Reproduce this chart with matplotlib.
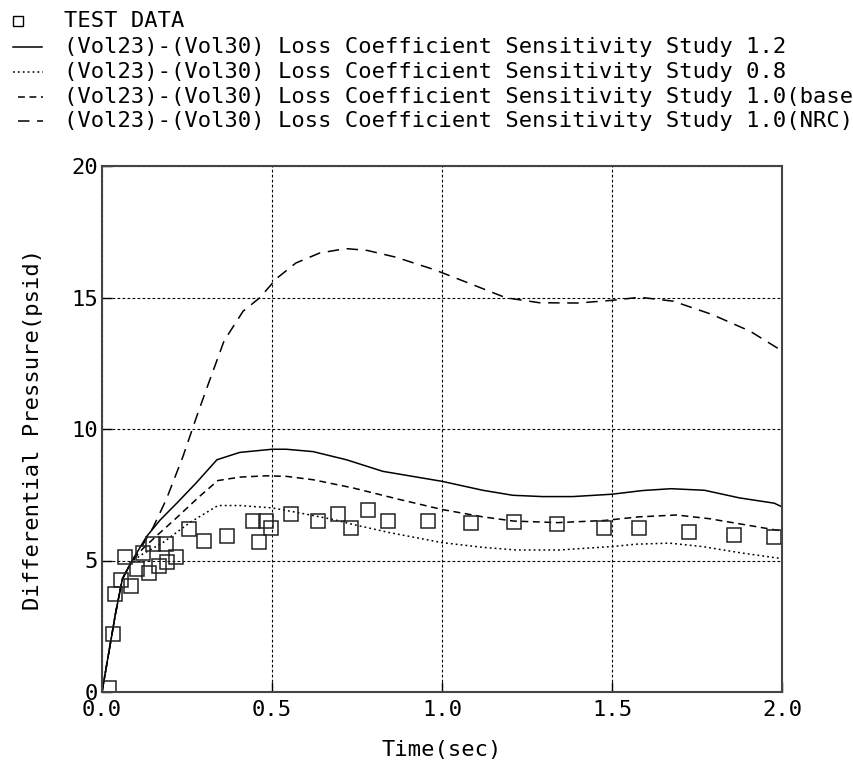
import matplotlib
matplotlib.use("Agg")
import matplotlib.pyplot as plt
from matplotlib.lines import Line2D

plt.rcParams['font.family'] = ['DejaVu Sans Mono', 'DejaVu Sans']

# ---- data ----
test_t = [0.022, 0.031, 0.039, 0.057, 0.069, 0.086, 0.104, 0.122, 0.138, 0.151,
          0.167, 0.188, 0.192, 0.218, 0.255, 0.300, 0.369, 0.443, 0.461, 0.482,
          0.497, 0.556, 0.634, 0.695, 0.732, 0.783, 0.840, 0.958, 1.084, 1.211,
          1.339, 1.476, 1.578, 1.727, 1.860, 1.977]
test_v = [0.15, 2.2, 3.72, 4.27, 5.13, 4.03, 4.67, 5.28, 4.54, 5.63,
          4.80, 5.63, 4.95, 5.13, 6.19, 5.76, 5.94, 6.52, 5.71, 6.52,
          6.23, 6.76, 6.50, 6.78, 6.22, 6.91, 6.49, 6.51, 6.44, 6.46,
          6.40, 6.25, 6.25, 6.08, 5.97, 5.89]

s12_t = [0, 0.02, 0.04, 0.06, 0.087, 0.131, 0.171, 0.22, 0.277, 0.338, 0.405, 0.5,
         0.542, 0.621, 0.719, 0.826, 1.0, 1.12, 1.208, 1.296, 1.384, 1.5, 1.59,
         1.674, 1.772, 1.875, 1.977, 2.0]
s12_v = [0, 1.5, 3.0, 4.3, 4.96, 5.91, 6.54, 7.18, 7.95, 8.83, 9.11, 9.23,
         9.23, 9.14, 8.83, 8.39, 8.01, 7.67, 7.48, 7.43, 7.43, 7.52, 7.66,
         7.73, 7.67, 7.38, 7.18, 7.04]

s08_t = [0, 0.02, 0.04, 0.06, 0.087, 0.12, 0.179, 0.258, 0.341, 0.405, 0.5, 0.581,
         0.68, 0.738, 0.846, 1.0, 1.12, 1.218, 1.345, 1.5, 1.57, 1.669, 1.766,
         1.884, 2.0]
s08_v = [0, 1.5, 3.0, 4.3, 4.96, 5.25, 5.68, 6.44, 7.09, 7.09, 7.0, 6.81,
         6.56, 6.37, 6.06, 5.68, 5.5, 5.40, 5.40, 5.53, 5.62, 5.66, 5.53,
         5.28, 5.07]

base_t = [0, 0.02, 0.04, 0.06, 0.087, 0.12, 0.16, 0.219, 0.287, 0.341, 0.405, 0.483,
          0.542, 0.621, 0.738, 0.875, 1.0, 1.12, 1.21, 1.34, 1.476, 1.58, 1.69,
          1.786, 1.90, 2.0]
base_v = [0, 1.5, 3.0, 4.3, 4.96, 5.45, 5.93, 6.62, 7.44, 8.04, 8.17, 8.22,
          8.20, 8.07, 7.76, 7.32, 6.94, 6.66, 6.5, 6.44, 6.52, 6.66, 6.73,
          6.59, 6.34, 6.12]

nrc_t = [0, 0.02, 0.04, 0.06, 0.087, 0.12, 0.15, 0.189, 0.238, 0.281, 0.316, 0.359,
         0.415, 0.464, 0.513, 0.57, 0.64, 0.717, 0.78, 0.865, 0.977, 1.076, 1.188,
         1.287, 1.4, 1.498, 1.582, 1.68, 1.793, 1.906, 2.0]
nrc_v = [0, 1.5, 3.0, 4.3, 4.96, 5.6, 6.25, 7.32, 8.95, 10.57, 11.83, 13.35,
         14.48, 14.99, 15.72, 16.31, 16.69, 16.86, 16.79, 16.53, 16.06, 15.56, 14.99,
         14.8, 14.79, 14.89, 15.01, 14.86, 14.36, 13.72, 12.97]

x_ticks = [0.0, 0.5, 1.0, 1.5, 2.0]
x_ticklabels = ['0.0', '0.5', '1.0', '1.5', '2.0']
y_ticks = [0, 5, 10, 15, 20]
y_ticklabels = ['0', '5', '10', '15', '20']

legend_labels = ['TEST DATA',
                 '(Vol23)-(Vol30) Loss Coefficient Sensitivity Study 1.2',
                 '(Vol23)-(Vol30) Loss Coefficient Sensitivity Study 0.8',
                 '(Vol23)-(Vol30) Loss Coefficient Sensitivity Study 1.0(base)',
                 '(Vol23)-(Vol30) Loss Coefficient Sensitivity Study 1.0(NRC)']

# ---- styles ----
W, H = 854, 776
fig = plt.figure(figsize=(W / 100, H / 100), dpi=100)
ax = fig.add_axes([102 / W, 1 - 692 / H, (782 - 102) / W, (692 - 166) / H])

FS = 15.9
ls_solid = '-'
ls_dot = (0, (1.2, 2.0))
ls_base = (0, (4.5, 3.0))
ls_nrc = (0, (7.5, 5.0))
lw = 1.1

ax.plot(s12_t, s12_v, color='black', lw=lw, ls=ls_solid)
ax.plot(s08_t, s08_v, color='black', lw=lw, ls=ls_dot)
ax.plot(base_t, base_v, color='black', lw=lw, ls=ls_base)
ax.plot(nrc_t, nrc_v, color='black', lw=lw, ls=ls_nrc)
ax.plot(test_t, test_v, ls='none', marker='s', markersize=10.5,
        markerfacecolor='none', markeredgecolor='#222222', markeredgewidth=1.1)

ax.set_xlim(0, 2.0)
ax.set_ylim(0, 20)
ax.set_xticks(x_ticks)
ax.set_xticklabels(x_ticklabels)
ax.set_yticks(y_ticks)
ax.set_yticklabels(y_ticklabels)
ax.tick_params(direction='in', length=7, width=1, labelsize=FS, colors='black')
ax.tick_params(axis='x', pad=6)
ax.tick_params(axis='y', pad=3)
ax.grid(True, color='black', lw=0.8, ls=(0, (2.5, 2.0)))
for sp in ax.spines.values():
    sp.set_color('#444444')
    sp.set_linewidth(1.5)

ax.set_xlabel('Time(sec)', fontsize=FS, labelpad=14)
ax.set_ylabel('Differential Pressure(psid)', fontsize=FS, labelpad=20)

# ---- legend at top-left of figure ----
rows_px = [21, 47, 72, 97, 121]
text_x = 64 / W

def fy(px):
    return 1 - px / H

fig.add_artist(Line2D([18 / W], [fy(rows_px[0])], transform=fig.transFigure,
                      ls='none', marker='s', markersize=6.5,
                      markerfacecolor='none', markeredgecolor='black', markeredgewidth=1.0))
fig.add_artist(Line2D([13 / W, 42 / W], [fy(rows_px[1])] * 2, transform=fig.transFigure,
                      color='black', lw=lw, ls=ls_solid))
fig.add_artist(Line2D([13 / W, 43 / W], [fy(rows_px[2])] * 2, transform=fig.transFigure,
                      color='black', lw=lw, ls=ls_dot))
fig.add_artist(Line2D([18 / W, 43 / W], [fy(rows_px[3])] * 2, transform=fig.transFigure,
                      color='black', lw=lw, ls=ls_base))
fig.add_artist(Line2D([18 / W, 43 / W], [fy(rows_px[4])] * 2, transform=fig.transFigure,
                      color='black', lw=lw, ls=ls_nrc))
for lab, rp in zip(legend_labels, rows_px):
    fig.text(text_x, fy(rp), lab, fontsize=FS, va='center', ha='left')

fig.savefig('out.png', dpi=100)
